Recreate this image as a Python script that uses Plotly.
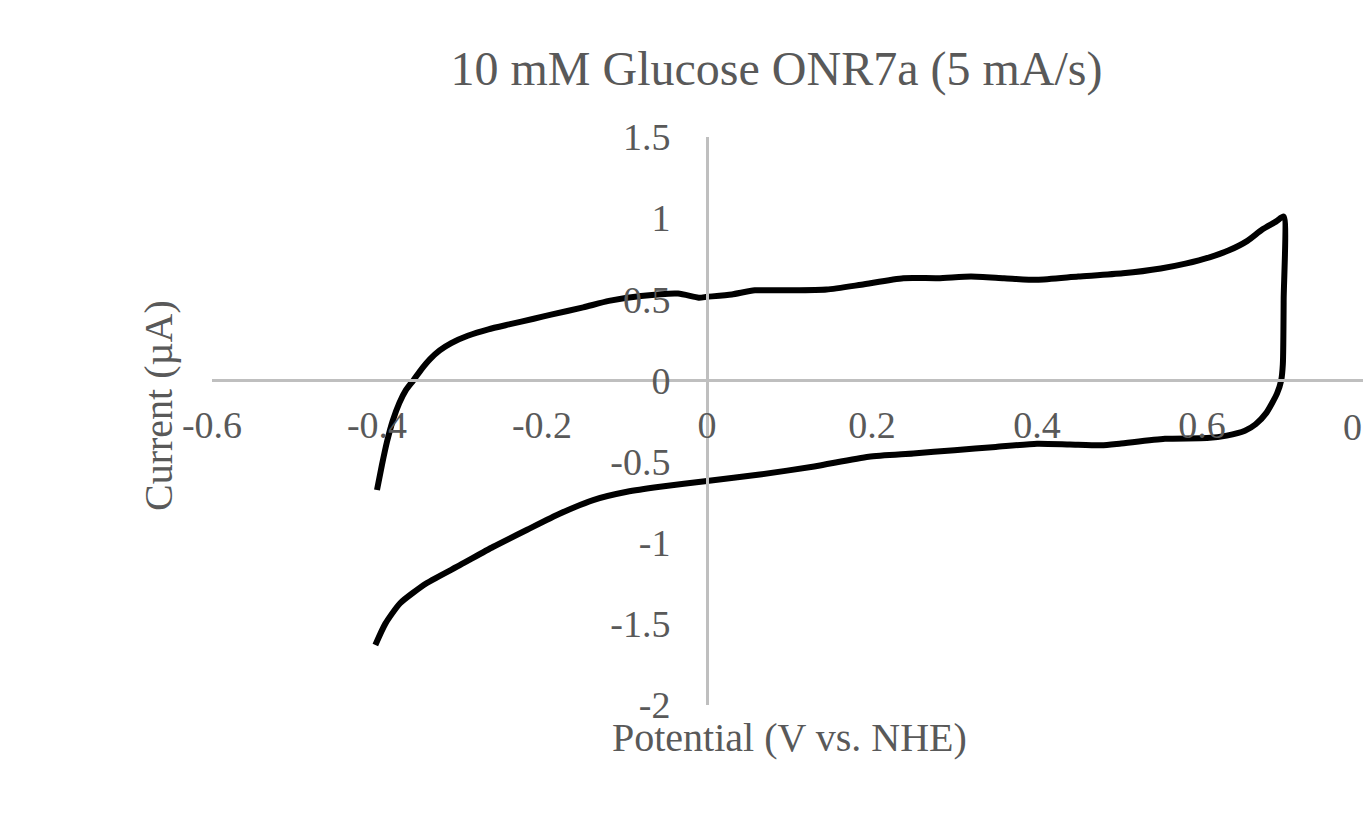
import plotly.graph_objects as go

# Cyclic voltammogram (V vs. NHE, µA)
potential = [-0.400, -0.394, -0.388, -0.381, -0.373, -0.365, -0.356, -0.346, -0.336, -0.324,
             -0.310, -0.290, -0.265, -0.240, -0.210, -0.189, -0.150, -0.119, -0.080, -0.035,
             -0.010, 0.000, 0.030, 0.058, 0.100, 0.145, 0.187, 0.238, 0.280, 0.320,
             0.360, 0.400, 0.450, 0.504, 0.550, 0.580, 0.610, 0.632, 0.655, 0.673,
             0.690, 0.699, 0.699, 0.698, 0.696, 0.691, 0.678, 0.665, 0.652, 0.630,
             0.606, 0.555, 0.500, 0.478, 0.440, 0.400, 0.350, 0.300, 0.250, 0.196,
             0.130, 0.064, 0.000, -0.057, -0.097, -0.138, -0.178, -0.218, -0.259, -0.299,
             -0.340, -0.372, -0.390, -0.402]
current = [-0.675, -0.520, -0.380, -0.250, -0.140, -0.060, 0.000, 0.070, 0.130, 0.185,
           0.230, 0.275, 0.315, 0.345, 0.380, 0.405, 0.450, 0.490, 0.520, 0.535,
           0.510, 0.515, 0.530, 0.555, 0.555, 0.560, 0.590, 0.630, 0.630, 0.640,
           0.630, 0.620, 0.640, 0.660, 0.690, 0.720, 0.760, 0.800, 0.860, 0.930,
           0.980, 1.010, 0.500, 0.100, 0.000, -0.080, -0.200, -0.270, -0.310, -0.340,
           -0.355, -0.360, -0.390, -0.400, -0.395, -0.390, -0.410, -0.430, -0.450, -0.470,
           -0.530, -0.580, -0.620, -0.655, -0.686, -0.737, -0.820, -0.920, -1.025, -1.137,
           -1.250, -1.373, -1.500, -1.630]

x_ticks = [-0.6, -0.4, -0.2, 0, 0.2, 0.4, 0.6]
x_tick_text = ["-0.6", "-0.4", "-0.2", "0", "0.2", "0.4", "0.6"]
y_ticks = [-2, -1.5, -1, -0.5, 0, 0.5, 1, 1.5]
y_tick_text = ["-2", "-1.5", "-1", "-0.5", "0", "0.5", "1", "1.5"]

TXT = "#595959"
AX = "#bfbfbf"
FONT = "Liberation Serif"

W, H = 1363, 838
L, R, T, B = 212, 0, 137, 133
px_per_v = 825.0
x_min = -0.6
x_max = x_min + (W - L - R) / px_per_v
y_min, y_max = -2, 1.5

fig = go.Figure()
fig.add_trace(go.Scatter(
    x=potential, y=current, mode="lines",
    line=dict(color="black", width=6, shape="spline", smoothing=0.6),
    showlegend=False, hoverinfo="skip",
))

fig.update_layout(
    width=W, height=H,
    margin=dict(l=L, r=R, t=T, b=B, pad=0),
    paper_bgcolor="white", plot_bgcolor="white",
    font=dict(family=FONT, color=TXT, size=38),
    title=dict(text="10 mM Glucose ONR7a (5 mA/s)", xref="container", yref="container",
               x=776.5 / W, y=1 - 68 / H, xanchor="center", yanchor="middle",
               font=dict(family=FONT, size=48, color=TXT)),
    xaxis=dict(range=[x_min, x_max], tickvals=x_ticks, ticktext=x_tick_text,
               anchor="free", position=(0 - y_min) / (y_max - y_min),
               showline=True, linecolor=AX, linewidth=3,
               showgrid=False, zeroline=False, ticks="",
               ticklabelstandoff=10,
               tickfont=dict(family=FONT, size=38, color=TXT)),
    yaxis=dict(range=[y_min, y_max], tickvals=y_ticks, ticktext=y_tick_text,
               anchor="free", position=(0 - x_min) / (x_max - x_min),
               showline=True, linecolor=AX, linewidth=3,
               showgrid=False, zeroline=False, ticks="",
               ticklabelstandoff=28,
               tickfont=dict(family=FONT, size=38, color=TXT)),
    annotations=[
        dict(text="Potential (V vs. NHE)", xref="paper", yref="paper",
             x=(789.5 - L) / (W - L - R), y=(H - B - 737) / (H - T - B),
             xanchor="center", yanchor="middle", showarrow=False,
             font=dict(family=FONT, size=40, color=TXT)),
        dict(text="Current (µA)", xref="paper", yref="paper", textangle=-90,
             x=(158 - L) / (W - L - R), y=(H - B - 406) / (H - T - B),
             xanchor="center", yanchor="middle", showarrow=False,
             font=dict(family=FONT, size=40, color=TXT)),
        dict(text="0.8", xref="paper", yref="paper",
             x=(1367 - L) / (W - L - R), y=(H - B - 427) / (H - T - B),
             xanchor="center", yanchor="middle", showarrow=False,
             font=dict(family=FONT, size=38, color=TXT)),
    ],
)

fig.write_html("out.html")
